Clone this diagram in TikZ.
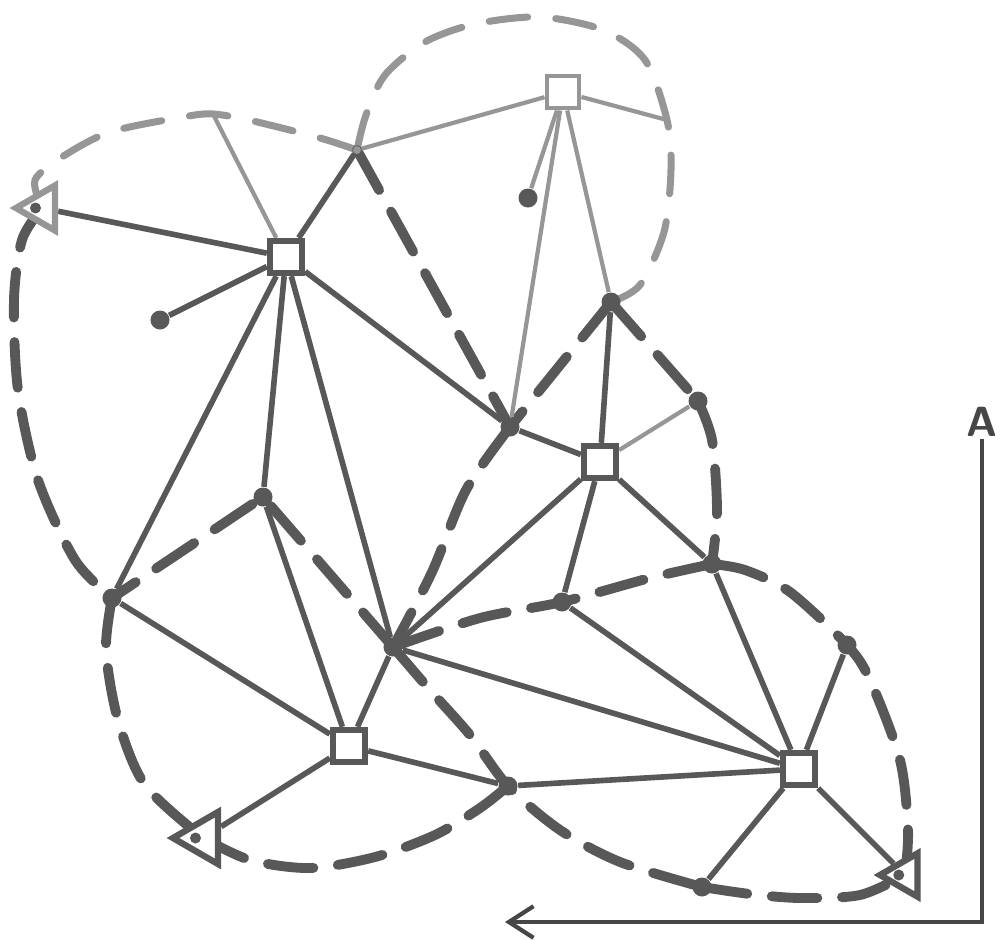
\documentclass[tikz,border=0pt]{standalone}
\usetikzlibrary{shapes.geometric,arrows.meta,backgrounds}
\definecolor{ink}{RGB}{88,88,88}
\definecolor{faintink}{RGB}{150,150,150}
\definecolor{axisink}{RGB}{70,70,70}
\begin{document}
\begin{tikzpicture}[x=0.01cm,y=-0.01cm,
  hub/.style={rectangle,draw=ink,fill=white,line width=1.8pt,minimum size=0.32cm,inner sep=0pt},
  fainthub/.style={hub,draw=faintink,line width=1.4pt},
  dot/.style={circle,fill=ink,minimum size=0.19cm,inner sep=0pt},
  smalldot/.style={circle,fill=faintink,minimum size=0.08cm,inner sep=0pt},
  term/.style={regular polygon,regular polygon sides=3,shape border rotate=90,
    draw=ink,fill=white,line width=1.8pt,minimum size=0.56cm,inner sep=0pt,
    path picture={\fill[ink] (path picture bounding box.center) circle (0.055cm);}},
  link/.style={draw=ink,line width=1.6pt},
  faintlink/.style={draw=faintink,line width=1.2pt},
  cell/.style={draw=ink,line width=2.8pt,line cap=round,dash pattern=on 13pt off 7pt},
  faintcell/.style={draw=faintink,line width=2pt,line cap=round,dash pattern=on 11pt off 8pt},
  axis/.style={draw=axisink,line width=1.2pt}]
\useasboundingbox (0,0) rectangle (1000,939);

% hubs (squares)
\node[hub] (S1) at (286,257) {};
\node[fainthub] (S2) at (563,92) {};
\node[hub] (S3) at (600,462) {};
\node[hub] (S4) at (349,746) {};
\node[hub] (S5) at (799,769) {};
% terminals (triangles)
\node[term,draw=faintink,minimum size=0.52cm] (T1) at (42,208) {};
\node[term,minimum size=0.6cm] (T2) at (203,838) {};
\node[term,minimum size=0.5cm] (T3) at (905,875) {};
% dots
\node[dot] (D1) at (160,320) {};
\node[dot] (D2) at (263,497) {};
\node[dot] (D3) at (112,598) {};
\node[dot] (D4) at (510,427) {};
\node[dot] (D5) at (528,198) {};
\node[dot] (D6) at (611,302) {};
\node[dot] (D7) at (698,401) {};
\node[dot] (D8) at (393,647) {};
\node[dot] (D9) at (562,602) {};
\node[dot] (D10) at (712,564) {};
\node[dot] (D11) at (847,645) {};
\node[dot] (D12) at (508,786) {};
\node[dot] (D13) at (702,887) {};
\node[smalldot] (P1) at (357,150) {};
\coordinate (B1) at (213,114);
\coordinate (B2) at (667,120);
% axis
\node[font=\sffamily\bfseries\large,text=axisink,inner sep=0.5pt] (A) at (982,422) {A};
\coordinate (tip) at (505,922);

\begin{scope}[on background layer]
% cell boundaries (dashed)
\draw[faintcell] plot[smooth] coordinates {(T1.center) (35,180) (62,157) (110,132) (183,117) (B1) (253,121) (320,138) (P1.center)};
\draw[faintcell] plot[smooth] coordinates {(P1.center) (366,115) (385,75) (425,42) (475,24) (540,17) (603,30) (645,60) (B2) (671,170) (664,232) (640,285) (D6.center)};
\draw[cell] plot[smooth] coordinates {(T1.center) (22,240) (14,300) (18,390) (38,480) (75,560) (D3.center)};
\draw[cell] plot[smooth] coordinates {(D3.center) (106,650) (118,720) (145,785) (T2.center)};
\draw[cell] plot[smooth] coordinates {(T2.center) (250,860) (310,868) (375,857) (435,835) (480,808) (D12.center)};
\draw[cell] plot[smooth] coordinates {(D8.center) (430,690) (470,735) (D12.center) (560,830) (620,862) (D13.center)};
\draw[cell] plot[smooth] coordinates {(D13.center) (750,894) (800,898) (860,895) (T3.center)};
\draw[cell] plot[smooth] coordinates {(T3.center) (908,830) (900,760) (870,680) (D11.center) (790,592) (745,570) (D10.center)};
\draw[cell] plot[smooth] coordinates {(D10.center) (650,578) (D9.center) (480,618) (D8.center)};
\draw[cell] plot[smooth] coordinates {(D7.center) (712,440) (717,510) (D10.center)};
\draw[cell] (D6.center) -- (D7.center);
\draw[cell] (D6.center) -- (D4.center);
\draw[cell] (P1.center) -- (D4.center);
\draw[cell] plot[smooth] coordinates {(D4.center) (466,490) (432,572) (D8.center)};
\draw[cell] (D8.center) -- (D2.center) -- (D3.center);

% links (solid)
\draw[link] (T1) -- (S1);
\draw[link] (S1) -- (D1);
\draw[faintlink] (S1) -- (B1);
\draw[link] (S1) -- (P1);
\draw[faintlink] (P1) -- (S2);
\draw[link] (S1) -- (D3);
\draw[link] (S1) -- (D2);
\draw[link] (S1) -- (D8);
\draw[link] (S1) -- (D4);
\draw[link] (D4) -- (S3);
\draw[faintlink] (S2) -- (D4);
\draw[faintlink] (S2) -- (D5);
\draw[faintlink] (S2) -- (D6);
\draw[faintlink] (S2) -- (B2);
\draw[link] (D6) -- (S3);
\draw[faintlink] (S3) -- (D7);
\draw[link] (S3) -- (D8);
\draw[link] (S3) -- (D9);
\draw[link] (S3) -- (D10);
\draw[link] (D3) -- (S4);
\draw[link] (D2) -- (S4);
\draw[link] (D8) -- (S4);
\draw[link] (S4) -- (T2);
\draw[link] (S4) -- (D12);
\draw[link] (D12) -- (S5);
\draw[link] (D8) -- (S5);
\draw[link] (D9) -- (S5);
\draw[link] (D10) -- (S5);
\draw[link] (D11) -- (S5);
\draw[link] (D13) -- (S5);
\draw[link] (S5) -- (T3);
\end{scope}

% axis arrow
\draw[axis,-{Straight Barb[length=7pt,width=9pt]}] (A) |- (tip);
\end{tikzpicture}
\end{document}
